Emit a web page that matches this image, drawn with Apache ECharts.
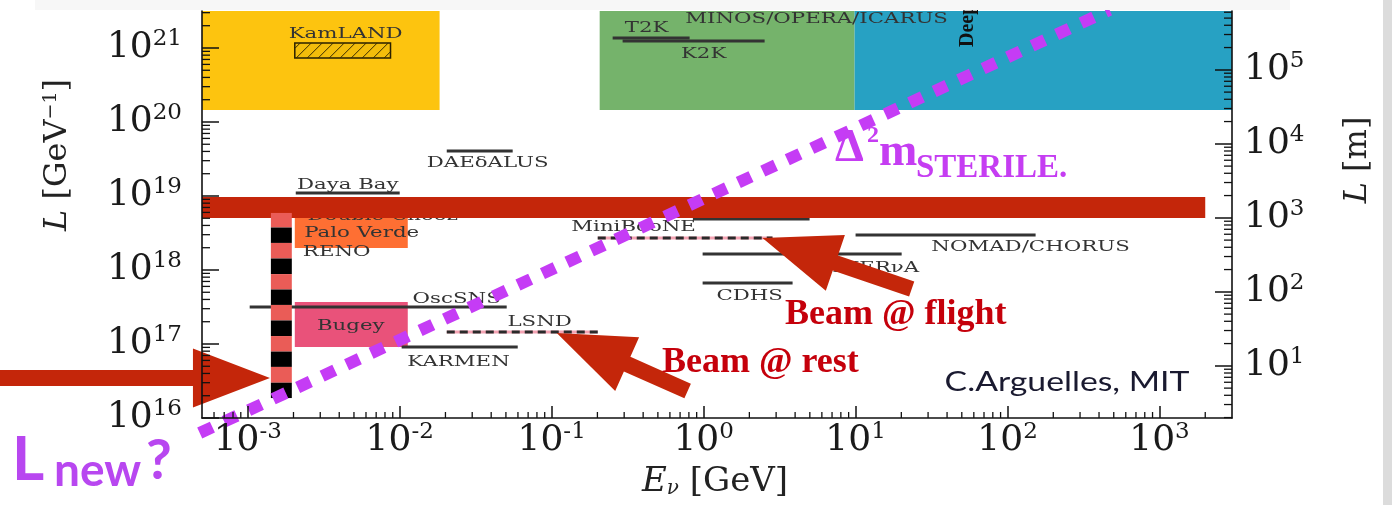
<!DOCTYPE html>
<html>
<head>
<meta charset="utf-8">
<style>
  html, body { margin: 0; padding: 0; background: #ffffff; }
  #chart { width: 1392px; height: 505px; }
</style>
<script src="https://cdn.jsdelivr.net/npm/echarts@6/dist/echarts.min.js"></script>
</head>
<body>
<div id="chart"></div>
<script>
// Neutrino oscillation landscape: energy E (GeV) vs baseline L (GeV^-1), right axis in metres.
const E_MIN = 5e-4, E_MAX = 3e3;
const L_MIN = 1e16, L_MAX = 3.16e21;
const HBARC_M = 1.9733e-16;          // metres per GeV^-1

const xTickExponents = [-3, -2, -1, 0, 1, 2, 3];
const yTickExponents = [16, 17, 18, 19, 20, 21];
const yMetreTickExponents = [1, 2, 3, 4, 5];
const minorMantissas = [2, 3, 4, 5, 6, 7, 8, 9];

// Shaded source regions: [E low, E high, L low, L high]
const regionNames = ['Reactor', 'Accelerator', 'Atmospheric'];
const regions = [
  [E_MIN, 0.0183, 1.45e20, L_MAX],
  [0.207, 9.85, 1.45e20, L_MAX],
  [9.85, E_MAX, 1.45e20, L_MAX]
];

// Filled experiment boxes: [E low, E high, L low, L high]
const boxNames = ['Double Chooz / Palo Verde / RENO', 'Bugey'];
const boxes = [
  [2.04e-3, 1.13e-2, 1.98e18, 6.1e18],
  [2.04e-3, 1.13e-2, 9.1e16, 3.70e17]
];
const kamland = [2.04e-3, 8.7e-3, 7.33e20, 1.17e21];

// Experiments drawn as solid baselines: [E low, E high, L]
const baselineNames = ['Daya Bay', 'DAEδALUS', 'OscSNS', 'KARMEN', 'T2K', 'K2K',
  'NuMI near', 'NOMAD/CHORUS', 'MINERνA', 'CDHS'];
const baselines = [
  [2.07e-3, 1.0e-2, 1.10e19],
  [2.04e-2, 5.54e-2, 4.05e19],
  [1.03e-3, 5.06e-2, 3.16e17],
  [1.03e-2, 5.98e-2, 9.1e16],
  [0.252, 0.809, 1.36e21],
  [0.293, 2.52, 1.24e21],
  [0.85, 4.98, 4.89e18],
  [10.0, 153, 2.97e18],
  [0.985, 20.1, 1.64e18],
  [0.985, 3.85, 6.67e17]
];

// Experiments drawn as dashed baselines: [E low, E high, L]
const dashedNames = ['MiniBooNE', 'LSND'];
const dashedBaselines = [
  [0.201, 2.84, 2.70e18],
  [0.0204, 0.201, 1.45e17]
];

// Short-baseline source column, banded along L
const sourceE = [1.42e-3, 1.95e-3];
const sourceStripeL = [5.9e18, 3.75e18, 2.32e18, 1.43e18, 8.8e17, 5.45e17,
  3.37e17, 2.08e17, 1.28e17, 7.9e16, 4.9e16, 3.0e16, 1.86e16];

// Baseline band around 1 km
const kmBand = [E_MIN, 2.0e3, 5.05e18, 9.69e18];

// Experiment labels and their anchors [E, L]
const labelTexts = ['KamLAND', 'DAEδALUS', 'Daya Bay', 'Double Chooz', 'Palo Verde', 'RENO',
  'OscSNS', 'Bugey', 'LSND', 'KARMEN', 'MiniBooNE', 'CDHS', 'MINERνA', 'NOMAD/CHORUS',
  'T2K', 'MINOS/OPERA/ICARUS', 'K2K'];
const labelPos = [
  [4.41e-3, 1.55e21], [0.0379, 2.79e19], [4.55e-3, 1.41e19], [7.73e-3, 5.37e18],
  [5.62e-3, 3.16e18], [3.85e-3, 1.75e18], [0.0237, 4.05e17], [4.76e-3, 1.75e17],
  [0.0834, 1.98e17], [0.0244, 5.7e16], [0.346, 3.81e18], [2.01, 4.46e17],
  [11.5, 1.06e18], [141.7, 2.05e18], [0.422, 1.86e21], [5.54, 2.47e21], [1.0, 8.3e20]
];
const deepCoreText = 'DeepCore';
const deepCorePos = [54.6, 1.03e21];

// Δm² ~ 1 eV² oscillation line
const sterileLine = [[4.83e-4, 6.27e15], [469, 3.27e21]];

// Arrows: [tip E, tip L, tail E, tail L]
const arrows = [
  [1.40e-3, 3.47e16, 2.33e-5, 3.47e16],
  [0.108, 1.41e17, 0.785, 2.32e16],
  [2.44, 2.70e18, 23.4, 5.53e17]
];

// ---------------------------------------------------------------------------
const SERIF = '"DejaVu Serif", serif';
const INK = '#1a1a1a';
const regionColors = ['#fdc40f', '#75b36b', '#27a1c3'];
const boxColors = ['#fe6f33', '#e9527a'];
const stripeColors = ['#ea5c57', '#000000'];
const RED = '#c4260a';
const PURPLE = '#c53cf5';

function minorValues(lo, hi) {
  const out = [];
  for (let e = Math.floor(Math.log10(lo)); e <= Math.ceil(Math.log10(hi)); e++) {
    for (const m of minorMantissas) {
      const v = m * Math.pow(10, e);
      if (v > lo && v < hi) out.push(v);
    }
  }
  return out;
}

const stripes = [];
for (let i = 0; i + 1 < sourceStripeL.length; i++) {
  stripes.push([sourceE[0], sourceE[1], sourceStripeL[i + 1], sourceStripeL[i]]);
}

function rectRenderer(colors) {
  return function (params, api) {
    const a = api.coord([api.value(0), api.value(3)]);
    const b = api.coord([api.value(1), api.value(2)]);
    return {
      type: 'rect',
      shape: { x: a[0], y: a[1], width: b[0] - a[0], height: b[1] - a[1] },
      style: { fill: colors[params.dataIndex % colors.length] }
    };
  };
}

function hatchRenderer(params, api) {
  const a = api.coord([api.value(0), api.value(3)]);
  const b = api.coord([api.value(1), api.value(2)]);
  const x0 = a[0], y0 = a[1], x1 = b[0], y1 = b[1];
  const children = [{
    type: 'rect', shape: { x: x0, y: y0, width: x1 - x0, height: y1 - y0 },
    style: { fill: '#f3bd0b', stroke: '#2a2000', lineWidth: 1.5 }
  }];
  const step = 11;
  for (let c = x0 + y0 + step / 2; c < x1 + y1; c += step) {
    const xa = Math.max(x0, c - y1), xb = Math.min(x1, c - y0);
    if (xb > xa) {
      children.push({ type: 'line', shape: { x1: xa, y1: c - xa, x2: xb, y2: c - xb },
        style: { stroke: '#3a2c00', lineWidth: 1 } });
    }
  }
  return { type: 'group', children };
}

function segmentRenderer(params, api) {
  const a = api.coord([api.value(0), api.value(2)]);
  const b = api.coord([api.value(1), api.value(2)]);
  return { type: 'line', shape: { x1: a[0], y1: a[1], x2: b[0], y2: b[1] },
    style: { stroke: '#333333', lineWidth: 3 } };
}

function dashedRenderer(params, api) {
  const a = api.coord([api.value(0), api.value(2)]);
  const b = api.coord([api.value(1), api.value(2)]);
  const shape = { x1: a[0], y1: a[1], x2: b[0], y2: b[1] };
  return { type: 'group', children: [
    { type: 'line', shape, style: { stroke: '#f4a3b3', lineWidth: 3 } },
    { type: 'line', shape, style: { stroke: '#2a2a2a', lineWidth: 3, lineDash: [8, 5] } }
  ] };
}

function labelRenderer(params, api) {
  const p = api.coord([api.value(0), api.value(1)]);
  return { type: 'text', x: p[0], y: p[1], scaleX: 1.42,
    style: { text: labelTexts[params.dataIndex], font: '15px ' + SERIF, fill: '#333333',
      align: 'center', verticalAlign: 'middle' } };
}

function deepCoreRenderer(params, api) {
  const p = api.coord([api.value(0), api.value(1)]);
  return { type: 'text', x: p[0], y: p[1], rotation: Math.PI / 2,
    style: { text: deepCoreText, font: 'bold 20px "Liberation Serif", serif', fill: '#111111',
      align: 'left', verticalAlign: 'middle' } };
}

function arrowRenderer(params, api) {
  const t = api.coord([api.value(0), api.value(1)]);
  const s = api.coord([api.value(2), api.value(3)]);
  const dx = s[0] - t[0], dy = s[1] - t[1], len = Math.hypot(dx, dy);
  const ux = dx / len, uy = dy / len, nx = -uy, ny = ux;
  const H = 77, W = 29.5, w = 8;
  const bx = t[0] + ux * H, by = t[1] + uy * H;
  const pts = [
    [t[0], t[1]],
    [bx + nx * W, by + ny * W], [bx + nx * w, by + ny * w],
    [s[0] + nx * w, s[1] + ny * w], [s[0] - nx * w, s[1] - ny * w],
    [bx - nx * w, by - ny * w], [bx - nx * W, by - ny * W]
  ];
  return { type: 'polygon', shape: { points: pts }, style: { fill: RED } };
}

function tickRenderer(dx, dy) {
  return function (params, api) {
    const p = api.coord([api.value(0), api.value(1)]);
    return { type: 'line', shape: { x1: p[0], y1: p[1], x2: p[0] + dx, y2: p[1] + dy },
      style: { stroke: '#111111', lineWidth: 1.3 } };
  };
}

const powRich = {
  b: { fontFamily: SERIF, fontSize: 36, lineHeight: 40, color: INK },
  s: { fontFamily: SERIF, fontSize: 23, lineHeight: 16, verticalAlign: 'top', color: INK }
};
function powLabel(list) {
  return function (v) {
    const lg = Math.log10(v), e = Math.round(lg);
    if (Math.abs(lg - e) > 1e-6 || list.indexOf(e) < 0) return '';
    return '{b|10}{s|' + e + '}';
  };
}

const axisLineStyle = { color: '#111111', width: 1.6 };

const option = {
  animation: false,
  backgroundColor: '#ffffff',
  grid: { left: 202, right: 160, top: 11, bottom: 87, containLabel: false, outerBoundsMode: 'none' },
  xAxis: {
    type: 'log', logBase: 10, min: E_MIN, max: E_MAX, z: 10,
    axisLine: { lineStyle: axisLineStyle },
    axisTick: { inside: true, length: 12, lineStyle: { color: '#111111', width: 1.5 } },
    axisLabel: { formatter: powLabel(xTickExponents), rich: powRich, margin: 3,
      showMinLabel: false, showMaxLabel: false },
    splitLine: { show: false }
  },
  yAxis: [
    {
      type: 'log', logBase: 10, min: L_MIN, max: L_MAX, position: 'left', z: 10,
      axisLine: { lineStyle: axisLineStyle },
      axisTick: { inside: true, length: 17, lineStyle: { color: '#111111', width: 1.5 } },
      axisLabel: { formatter: powLabel(yTickExponents), rich: powRich, margin: 20,
        showMaxLabel: false },
      splitLine: { show: false }
    },
    {
      type: 'log', logBase: 10, min: L_MIN * HBARC_M, max: L_MAX * HBARC_M, position: 'right', z: 10,
      axisLine: { lineStyle: axisLineStyle },
      axisTick: { inside: true, length: 17, lineStyle: { color: '#111111', width: 1.5 } },
      axisLabel: { formatter: powLabel(yMetreTickExponents), rich: powRich, margin: 12,
        showMinLabel: false, showMaxLabel: false },
      splitLine: { show: false }
    }
  ],
  series: [
    { type: 'custom', name: 'regions', data: regions, renderItem: rectRenderer(regionColors), z: 1, silent: true },
    { type: 'custom', name: 'KamLAND', data: [kamland], renderItem: hatchRenderer, z: 2, silent: true },
    { type: 'custom', name: 'boxes', data: boxes, renderItem: rectRenderer(boxColors), z: 2, silent: true },
    { type: 'custom', name: 'baselines', data: baselines, renderItem: segmentRenderer, z: 3, silent: true },
    { type: 'custom', name: 'dashed baselines', data: dashedBaselines, renderItem: dashedRenderer, z: 3, silent: true },
    { type: 'custom', name: 'labels', data: labelPos, renderItem: labelRenderer, z: 4, silent: true },
    { type: 'custom', name: 'DeepCore', data: [deepCorePos], renderItem: deepCoreRenderer, z: 4, silent: true },
    { type: 'custom', name: '1 km', data: [kmBand], renderItem: rectRenderer([RED]), z: 5, silent: true },
    { type: 'custom', name: 'source', data: stripes, renderItem: rectRenderer(stripeColors), z: 6, silent: true },
    { type: 'custom', name: 'arrows', data: arrows, renderItem: arrowRenderer, z: 7, clip: false, silent: true },
    { type: 'line', name: 'Δm² sterile', data: sterileLine, symbol: 'none', clip: false, z: 8, silent: true,
      lineStyle: { color: PURPLE, width: 12, type: [14, 13], cap: 'butt' } },
    { type: 'custom', name: 'minor x', z: 9, silent: true,
      data: minorValues(E_MIN, E_MAX).map(v => [v, L_MIN]), renderItem: tickRenderer(0, -6) },
    { type: 'custom', name: 'minor y', z: 9, silent: true,
      data: minorValues(L_MIN, L_MAX).map(v => [E_MIN, v]), renderItem: tickRenderer(8, 0) },
    { type: 'custom', name: 'minor y metres', z: 9, silent: true, yAxisIndex: 1,
      data: minorValues(L_MIN * HBARC_M, L_MAX * HBARC_M).map(v => [E_MAX, v]), renderItem: tickRenderer(-8, 0) }
  ],
  graphic: [
    { type: 'rect', shape: { x: 35, y: 0, width: 1255, height: 10 }, style: { fill: '#f7f7f7' }, z: 50 },
    { type: 'rect', shape: { x: 1383, y: 0, width: 9, height: 505 }, style: { fill: '#dcdcdc' }, z: 50 },
    // axis titles
    { type: 'text', x: 58, y: 155, rotation: Math.PI / 2, z: 40,
      style: { text: '{i|L} [GeV{s|−1}]', font: '32px ' + SERIF, fill: '#222222', align: 'center', verticalAlign: 'middle',
        rich: { i: { fontFamily: SERIF, fontStyle: 'italic', fontSize: 32, fill: '#222222' },
                s: { fontFamily: SERIF, fontSize: 19, lineHeight: 14, verticalAlign: 'top', fill: '#222222' } } } },
    { type: 'text', x: 1358, y: 160, rotation: Math.PI / 2, z: 40,
      style: { text: '{i|L} [m]', font: '32px ' + SERIF, fill: '#222222', align: 'center', verticalAlign: 'middle',
        rich: { i: { fontFamily: SERIF, fontStyle: 'italic', fontSize: 32, fill: '#222222' } } } },
    { type: 'text', x: 715, y: 482, z: 40,
      style: { text: '{i|E}{n|ν} [GeV]', font: '34px ' + SERIF, fill: '#222222', align: 'center', verticalAlign: 'middle',
        rich: { i: { fontFamily: SERIF, fontStyle: 'italic', fontSize: 34, fill: '#222222' },
                n: { fontFamily: SERIF, fontStyle: 'italic', fontSize: 20, lineHeight: 14, verticalAlign: 'bottom', fill: '#222222' } } } },
    // annotations
    { type: 'text', x: 785, y: 315, z: 40,
      style: { text: 'Beam @ flight', font: 'bold 36px "Liberation Serif", serif', fill: '#c5000b', verticalAlign: 'middle' } },
    { type: 'text', x: 662, y: 363, z: 40,
      style: { text: 'Beam @ rest', font: 'bold 36px "Liberation Serif", serif', fill: '#c5000b', verticalAlign: 'middle' } },
    { type: 'text', x: 835, y: 149, z: 40,
      style: { text: 'Δ', font: 'bold 46px "Liberation Serif", serif', fill: '#c53df2', verticalAlign: 'middle' } },
    { type: 'text', x: 867, y: 136, z: 40,
      style: { text: '2', font: 'bold 24px "Liberation Serif", serif', fill: '#c53df2', verticalAlign: 'middle' } },
    { type: 'text', x: 879, y: 153, z: 40,
      style: { text: 'm', font: 'bold 46px "Liberation Serif", serif', fill: '#c53df2', verticalAlign: 'middle' } },
    { type: 'text', x: 916, y: 168, z: 40,
      style: { text: 'STERILE.', font: 'bold 33px "Liberation Serif", serif', fill: '#c53df2', verticalAlign: 'middle' } },
    { type: 'text', x: 12, y: 460, z: 40,
      style: { text: 'L', font: 'bold 62px Lato, sans-serif', fill: '#b847f0', verticalAlign: 'middle' } },
    { type: 'text', x: 54, y: 471, z: 40,
      style: { text: 'new', font: 'bold 46px Lato, sans-serif', fill: '#b847f0', verticalAlign: 'middle' } },
    { type: 'text', x: 146, y: 461, z: 40,
      style: { text: '?', font: 'bold 56px Lato, sans-serif', fill: '#b847f0', verticalAlign: 'middle' } },
    { type: 'text', x: 1067, y: 382, scaleX: 1.25, z: 40,
      style: { text: 'C.Arguelles, MIT', font: '27px Lato, sans-serif', fill: '#1a1a30', align: 'center', verticalAlign: 'middle' } }
  ]
};

const chart = echarts.init(document.getElementById('chart'), null, { renderer: 'canvas' });
chart.setOption(option);
</script>
</body>
</html>
